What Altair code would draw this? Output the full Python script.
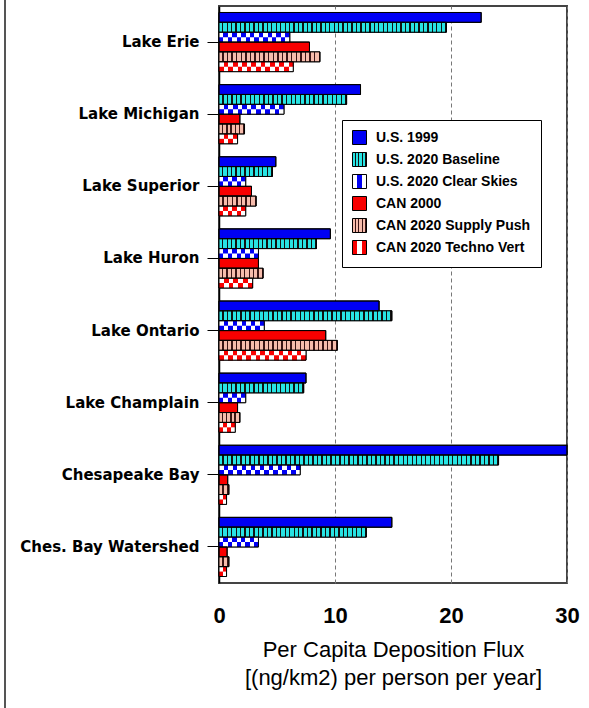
import altair as alt
import pandas as pd

categories = ["Lake Erie", "Lake Michigan", "Lake Superior", "Lake Huron",
              "Lake Ontario", "Lake Champlain", "Chesapeake Bay", "Ches. Bay Watershed"]
series = ["U.S. 1999", "U.S. 2020 Baseline", "U.S. 2020 Clear Skies",
          "CAN 2000", "CAN 2020 Supply Push", "CAN 2020 Techno Vert"]

us_1999 = [22.6, 12.2, 4.9, 9.6, 13.8, 7.5, 30.0, 14.9]
us_2020_baseline = [19.6, 11.0, 4.6, 8.4, 14.9, 7.3, 24.1, 12.7]
us_2020_clear_skies = [6.1, 5.6, 2.3, 3.4, 3.9, 2.3, 7.0, 3.4]
can_2000 = [7.8, 1.8, 2.8, 3.4, 9.2, 1.6, 0.75, 0.7]
can_2020_supply_push = [8.7, 2.2, 3.2, 3.8, 10.2, 1.8, 0.85, 0.85]
can_2020_techno_vert = [6.4, 1.6, 2.3, 2.9, 7.5, 1.4, 0.65, 0.65]

x_ticks = [0, 10, 20, 30]

all_values = [us_1999, us_2020_baseline, us_2020_clear_skies,
              can_2000, can_2020_supply_push, can_2020_techno_vert]

# ---- styling ----
PLOT_W, PLOT_H = 348, 577
PX_PER_UNIT = PLOT_W / 30.0
pattern = {
    "U.S. 2020 Baseline": ("stripe", "#28e4e4", "#111111"),
    "U.S. 2020 Clear Skies": ("check", "#0000f4", "#ffffff"),
    "CAN 2020 Supply Push": ("stripe", "#f6bcac", "#3a1414"),
    "CAN 2020 Techno Vert": ("check", "#f80000", "#ffffff"),
}
STRIPE_P = 4.5
CHECK_W = 4.5


def stripe_grad(n, c_main, c_line, frac=0.7):
    stops = []
    for i in range(n):
        a, b, c = i / n, (i + frac) / n, (i + 1) / n
        stops += [{"offset": a, "color": c_main}, {"offset": b, "color": c_main},
                  {"offset": b, "color": c_line}, {"offset": c, "color": c_line}]
    return {"gradient": "linear", "x1": 0, "y1": 0, "x2": 1, "y2": 0, "stops": stops}


def check_grad(n, c1, c2, phase=0):
    stops = []
    for i in range(n):
        col = c1 if (i + phase) % 2 == 0 else c2
        stops += [{"offset": i / n, "color": col}, {"offset": (i + 1) / n, "color": col}]
    return {"gradient": "linear", "x1": 0, "y1": 0, "x2": 1, "y2": 0, "stops": stops}


def to_expr(obj):
    """Serialize a gradient dict into a Vega expression object literal."""
    if isinstance(obj, dict):
        return "{" + ", ".join(f"{k}: {to_expr(v)}" for k, v in obj.items()) + "}"
    if isinstance(obj, list):
        return "[" + ", ".join(to_expr(v) for v in obj) + "]"
    if isinstance(obj, str):
        return "'" + obj + "'"
    return repr(obj)


# legend swatches (14px squares)
legend_range = [
    "#0000f4",
    {"expr": to_expr(stripe_grad(4, "#28e4e4", "#111111", 0.62))},
    {"expr": to_expr(check_grad(3, "#ffffff", "#0000f4"))},
    "#f80000",
    {"expr": to_expr(stripe_grad(4, "#f6bcac", "#3a1414", 0.62))},
    {"expr": to_expr(check_grad(3, "#f80000", "#ffffff"))},
]

rows = []
for ci, cat in enumerate(categories):
    for si, s in enumerate(series):
        rows.append({"cat": cat, "series": s, "value": all_values[si][ci],
                     "id": ci * len(series) + si, "slot": f"s{si * 2:02d}"})
df = pd.DataFrame(rows)
slots12 = [f"s{i:02d}" for i in range(12)]

cond_full, cond_top = [], []
for r in rows:
    if r["series"] not in pattern:
        continue
    kind, c1, c2 = pattern[r["series"]]
    length = r["value"] * PX_PER_UNIT
    if kind == "stripe":
        n = max(1, round(length / STRIPE_P))
        cond_full.append({"test": f"datum.id === {r['id']}", "value": stripe_grad(n, c1, c2)})
    else:
        n = max(2, round(length / CHECK_W))
        cond_full.append({"test": f"datum.id === {r['id']}", "value": check_grad(n, c1, c2, 0)})
        cond_top.append({"test": f"datum.id === {r['id']}", "value": check_grad(n, c1, c2, 1)})

y_enc = alt.Y("cat:N", sort=categories,
              scale=alt.Scale(domain=categories, paddingInner=0.18, paddingOuter=0.09),
              axis=alt.Axis(title=None, labelFont="DejaVu Sans", labelFontWeight="bold",
                            labelFontSize=15, labelColor="black", tickSize=12,
                            tickColor="black", tickWidth=1, labelPadding=8,
                            domainColor="black", domainWidth=1.5, grid=False))
x_enc = alt.X("value:Q", scale=alt.Scale(domain=[0, 30], nice=False, zero=True),
              axis=alt.Axis(values=x_ticks, format="d", ticks=False, domain=False,
                            grid=True, gridDash=[4, 3], gridColor="#777777", gridWidth=1,
                            labelFont="Liberation Sans", labelFontWeight="bold",
                            labelFontSize=22, labelColor="black", labelPadding=22,
                            labelFlush=False,
                            title=["Per Capita Deposition Flux", "[(ng/km2) per person per year]"],
                            titleFont="Liberation Sans", titleFontWeight="normal",
                            titleFontSize=22, titleColor="black", titleLineHeight=28,
                            titlePadding=13))
yoff6 = alt.YOffset("series:N", sort=series,
                    scale=alt.Scale(domain=series, paddingInner=0, paddingOuter=0))
yoff12 = alt.YOffset("slot:N", scale=alt.Scale(domain=slots12, paddingInner=0, paddingOuter=0))

base = alt.Chart(df)

bars = base.mark_bar(stroke="black", strokeWidth=1).encode(
    y=y_enc, x=x_enc, yOffset=yoff6,
    color=alt.Color("series:N", sort=series,
                    scale=alt.Scale(domain=series, range=legend_range),
                    legend=alt.Legend(title=None, orient="none", legendX=123, legendY=114,
                                      fillColor="white", strokeColor="black",
                                      padding=10, symbolType="square", symbolSize=196,
                                      symbolStrokeColor="black", symbolStrokeWidth=1,
                                      symbolOpacity=1,
                                      labelFont="Liberation Sans", labelFontWeight="bold",
                                      labelFontSize=14, labelColor="black", labelOffset=9,
                                      rowPadding=3, labelLimit=300)),
)

patterned = base.transform_filter(
    alt.FieldOneOfPredicate(field="series", oneOf=list(pattern.keys()))
).mark_bar(strokeWidth=0).encode(
    y=y_enc, x=x_enc, yOffset=yoff6,
    fill=alt.FillValue(value="white", condition=cond_full),
)

checker_top = base.transform_filter(
    alt.FieldOneOfPredicate(field="series",
                            oneOf=[k for k, v in pattern.items() if v[0] == "check"])
).mark_bar(strokeWidth=0).encode(
    y=y_enc, x=x_enc, yOffset=yoff12,
    fill=alt.FillValue(value="white", condition=cond_top),
)

outline = base.mark_bar(fill="transparent", stroke="black", strokeWidth=1).encode(
    y=y_enc, x=x_enc, yOffset=yoff6,
)

border = alt.Chart(pd.DataFrame({"a": [0]})).mark_rule(
    color="#555555", strokeWidth=2
).encode(x=alt.value(-214), y=alt.value(-6), y2=alt.value(702))

chart = alt.layer(bars, patterned, checker_top, outline, border).resolve_scale(
    yOffset="independent"
).properties(
    width=PLOT_W, height=PLOT_H,
    autosize=alt.AutoSizeParams(type="none"),
    padding={"left": 219, "top": 6, "right": 22, "bottom": 125},
    background="white",
).configure_view(stroke="#444444", strokeWidth=2)

chart.save("out.html", embed_options={"renderer": "svg", "actions": False})
